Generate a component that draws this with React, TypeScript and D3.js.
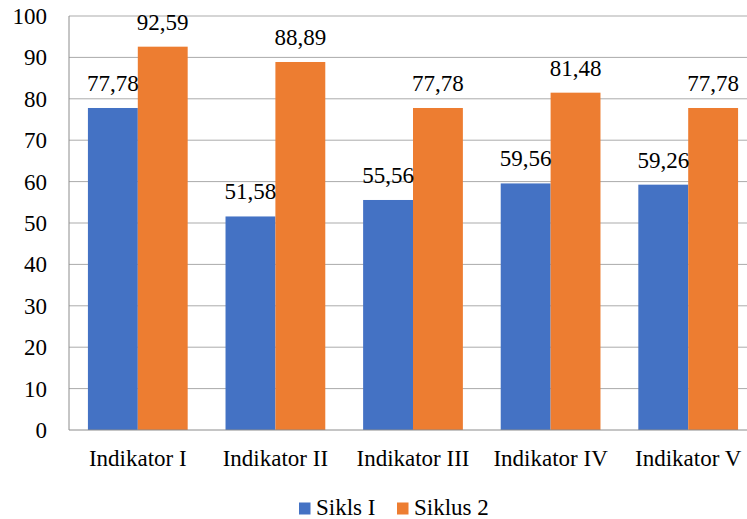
import React from "react";
import * as d3 from "d3";

const categories = ["Indikator I", "Indikator II", "Indikator III", "Indikator IV", "Indikator V"];
const seriesNames = ["Sikls I", "Siklus 2"];
const sikls1 = [77.78, 51.58, 55.56, 59.56, 59.26];
const siklus2 = [92.59, 88.89, 77.78, 81.48, 77.78];
const yTicks = [0, 10, 20, 30, 40, 50, 60, 70, 80, 90, 100];
const colors = ["#4472C4", "#ED7D31"];

const W = 747;
const H = 519;
const left = 69;
const right = 757;
const top = 16;
const bottom = 430;
const font = "Liberation Serif";
const ts: React.CSSProperties = { fontFamily: font, fontSize: "23px" };

export default function App() {
  const x = d3.scaleBand<string>().domain(categories).range([left, right]).paddingInner(0.275).paddingOuter(0.1375);
  const xs = d3.scaleBand<string>().domain(seriesNames).range([0, x.bandwidth()]);
  const y = d3.scaleLinear().domain([0, 100]).range([bottom, top]);
  const series = [sikls1, siklus2];
  const fmt = (v: number) => v.toFixed(2).replace(".", ",");

  return (
    <svg width={W} height={H} style={{ position: "absolute", left: 0, top: 0, background: "#fff" }}>
      {yTicks.map((t) => (
        <g key={t}>
          {t > 0 && <line x1={left} x2={right} y1={y(t)} y2={y(t)} stroke="#ababab" strokeWidth={1} />}
          <text x={47} y={y(t)} dy="0.35em" textAnchor="end" style={ts} fill="#000">{t}</text>
        </g>
      ))}
      {series.map((vals, si) =>
        vals.map((v, i) => (
          <rect key={`${si}-${i}`} x={(x(categories[i]) ?? 0) + (xs(seriesNames[si]) ?? 0)} y={y(v)} width={xs.bandwidth()} height={y(0) - y(v)} fill={colors[si]} />
        ))
      )}
      <line x1={left} x2={left} y1={top} y2={bottom} stroke="#8c8c8c" />
      <line x1={left} x2={right} y1={bottom} y2={bottom} stroke="#8c8c8c" />
      {series.map((vals, si) =>
        vals.map((v, i) => (
          <text key={`l${si}-${i}`} x={(x(categories[i]) ?? 0) + (xs(seriesNames[si]) ?? 0) + xs.bandwidth() / 2} y={y(v) - 17} textAnchor="middle" style={ts} fill="#000">{fmt(v)}</text>
        ))
      )}
      {categories.map((c) => (
        <text key={c} x={(x(c) ?? 0) + x.bandwidth() / 2} y={466} textAnchor="middle" style={ts} fill="#000">{c}</text>
      ))}
      <g>
        <rect x={299} y={502.5} width={11.5} height={12} fill={colors[0]} />
        <text x={316} y={515} style={ts} fill="#000">{seriesNames[0]}</text>
        <rect x={397} y={502.5} width={11.5} height={12} fill={colors[1]} />
        <text x={414} y={515} style={ts} fill="#000">{seriesNames[1]}</text>
      </g>
    </svg>
  );
}
